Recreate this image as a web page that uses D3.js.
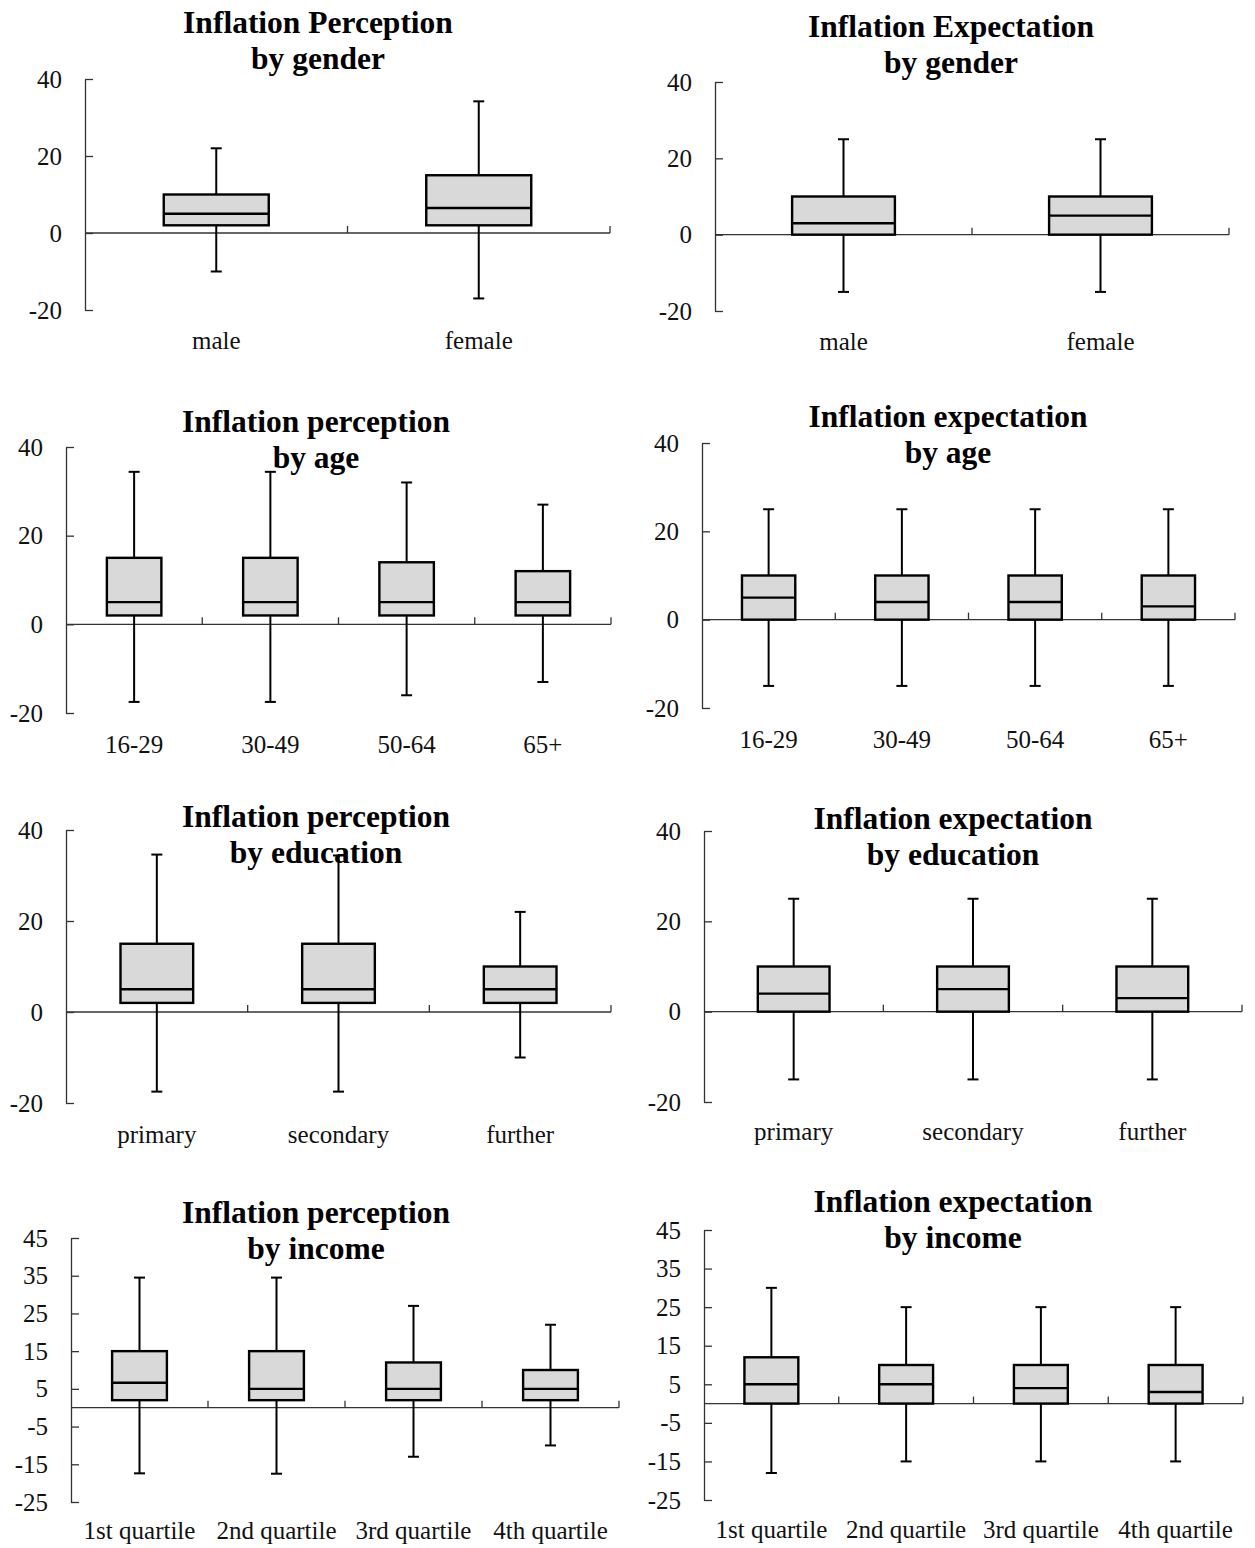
<!DOCTYPE html>
<html>
<head>
<meta charset="utf-8">
<script src="https://cdn.jsdelivr.net/npm/d3@7"></script>
<style>
  html, body { margin: 0; padding: 0; background: #fff; }
  svg { display: block; }
</style>
</head>
<body>
<svg id="chart" width="1255" height="1548"></svg>
<script>
// ---------- DATA ----------
// each box: [lower whisker, q1, median, q3, upper whisker]
const genderCats = ["male", "female"];
const ageCats = ["16-29", "30-49", "50-64", "65+"];
const eduCats = ["primary", "secondary", "further"];
const incomeCats = ["1st quartile", "2nd quartile", "3rd quartile", "4th quartile"];

const percGender = [[-10, 2, 5, 10, 22], [-17, 2, 6.5, 15, 34.2]];
const expGender  = [[-15, 0, 3, 10, 25], [-15, 0, 5, 10, 25]];
const percAge = [[-17.5, 2, 5, 15, 34.4], [-17.5, 2, 5, 15, 34.4], [-16, 2, 5, 14, 32], [-13, 2, 5, 12, 27]];
const expAge  = [[-15, 0, 5, 10, 25], [-15, 0, 4, 10, 25], [-15, 0, 4, 10, 25], [-15, 0, 3, 10, 25]];
const percEdu = [[-17.5, 2, 5, 15, 34.6], [-17.5, 2, 5, 15, 34.4], [-10, 2, 5, 10, 22]];
const expEdu  = [[-15, 0, 4, 10, 25], [-15, 0, 5, 10, 25], [-15, 0, 3, 10, 25]];
const percIncome = [[-17.4, 2, 6.6, 15, 34.5], [-17.5, 2, 5, 15, 34.5], [-13, 2, 5, 12, 27], [-10, 2, 5, 10, 22]];
const expIncome  = [[-18, 0, 5, 12, 30], [-15, 0, 5, 10, 25], [-15, 0, 4, 10, 25], [-15, 0, 3, 10, 25]];

const ticks40 = [-20, 0, 20, 40];
const ticks45 = [-25, -15, -5, 5, 15, 25, 35, 45];
const domain40 = [-20, 40];
const domain45 = [-25, 45];

const titles = [
  ["Inflation Perception", "by gender"],
  ["Inflation Expectation", "by gender"],
  ["Inflation perception", "by age"],
  ["Inflation expectation", "by age"],
  ["Inflation perception", "by education"],
  ["Inflation expectation", "by education"],
  ["Inflation perception", "by income"],
  ["Inflation expectation", "by income"]
];

// ---------- LAYOUT ----------
const panels = [
  { cats: genderCats, stats: percGender, ticks: ticks40, domain: domain40, l: 85, r: 610, t: 79, b: 310, tx: 318, ty: 33, lab: 349 },
  { cats: genderCats, stats: expGender, ticks: ticks40, domain: domain40, l: 715, r: 1229, t: 82, b: 311, tx: 951, ty: 37, lab: 350 },
  { cats: ageCats, stats: percAge, ticks: ticks40, domain: domain40, l: 66, r: 611, t: 447, b: 713, tx: 316, ty: 432, lab: 753 },
  { cats: ageCats, stats: expAge, ticks: ticks40, domain: domain40, l: 702, r: 1235, t: 443, b: 708, tx: 948, ty: 427, lab: 748 },
  { cats: eduCats, stats: percEdu, ticks: ticks40, domain: domain40, l: 66, r: 611, t: 830, b: 1103, tx: 316, ty: 827, lab: 1143 },
  { cats: eduCats, stats: expEdu, ticks: ticks40, domain: domain40, l: 704, r: 1242, t: 831, b: 1102, tx: 953, ty: 829, lab: 1140 },
  { cats: incomeCats, stats: percIncome, ticks: ticks45, domain: domain45, l: 71, r: 619, t: 1238, b: 1502, tx: 316, ty: 1223, lab: 1539 },
  { cats: incomeCats, stats: expIncome, ticks: ticks45, domain: domain45, l: 704, r: 1243, t: 1230, b: 1500, tx: 953, ty: 1212, lab: 1538 }
];

const svg = d3.select("#chart");
const FONT = "'Liberation Serif', 'Times New Roman', serif";
const AXIS = "#333";

panels.forEach((p, i) => {
  const g = svg.append("g");
  const x = d3.scaleBand().domain(p.cats).range([p.l, p.r]).paddingInner(0).paddingOuter(0);
  const y = d3.scaleLinear().domain(p.domain).range([p.b, p.t]);

  // y axis
  const yAxis = d3.axisLeft(y).tickValues(p.ticks).tickFormat(d => String(d))
    .tickSizeInner(-8).tickSizeOuter(0).tickPadding(23);
  const ya = g.append("g").attr("transform", `translate(${p.l},0)`).call(yAxis);
  ya.select(".domain").attr("stroke", AXIS).attr("stroke-width", 1.3);
  ya.selectAll(".tick line").attr("stroke", AXIS).attr("stroke-width", 1.3);
  ya.selectAll(".tick text").attr("font-family", FONT).attr("font-size", 25).attr("fill", "#111");

  // x axis line at zero with upward boundary ticks
  const y0 = y(0);
  g.append("line").attr("x1", p.l).attr("x2", p.r).attr("y1", y0).attr("y2", y0)
    .attr("stroke", AXIS).attr("stroke-width", 1.3);
  g.selectAll(".xtick").data(p.cats).join("line")
    .attr("x1", d => x(d) + x.bandwidth()).attr("x2", d => x(d) + x.bandwidth())
    .attr("y1", y0).attr("y2", y0 - 7)
    .attr("stroke", AXIS).attr("stroke-width", 1.3);

  // boxes
  const bw = x.bandwidth() * 0.4;
  const capW = 11;
  const boxes = g.selectAll(".box").data(p.cats.map((c, k) => ({ c, s: p.stats[k] }))).join("g");
  const cx = d => x(d.c) + x.bandwidth() / 2;
  boxes.append("line")
    .attr("x1", cx).attr("x2", cx)
    .attr("y1", d => y(d.s[0])).attr("y2", d => y(d.s[4]))
    .attr("stroke", "#000").attr("stroke-width", 2);
  boxes.append("line")
    .attr("x1", d => cx(d) - capW / 2).attr("x2", d => cx(d) + capW / 2)
    .attr("y1", d => y(d.s[4])).attr("y2", d => y(d.s[4]))
    .attr("stroke", "#000").attr("stroke-width", 2);
  boxes.append("line")
    .attr("x1", d => cx(d) - capW / 2).attr("x2", d => cx(d) + capW / 2)
    .attr("y1", d => y(d.s[0])).attr("y2", d => y(d.s[0]))
    .attr("stroke", "#000").attr("stroke-width", 2);
  boxes.append("rect")
    .attr("x", d => cx(d) - bw / 2)
    .attr("width", bw)
    .attr("y", d => y(d.s[3]))
    .attr("height", d => y(d.s[1]) - y(d.s[3]))
    .attr("fill", "#d9d9d9").attr("stroke", "#000").attr("stroke-width", 2.4);
  boxes.append("line")
    .attr("x1", d => cx(d) - bw / 2).attr("x2", d => cx(d) + bw / 2)
    .attr("y1", d => y(d.s[2])).attr("y2", d => y(d.s[2]))
    .attr("stroke", "#000").attr("stroke-width", 2.4);

  // category labels
  g.selectAll(".cat").data(p.cats).join("text")
    .attr("x", d => x(d) + x.bandwidth() / 2).attr("y", p.lab)
    .attr("text-anchor", "middle").attr("font-family", FONT).attr("font-size", 25).attr("fill", "#111")
    .text(d => d);

  // title
  const tt = g.append("text").attr("text-anchor", "middle").attr("font-family", FONT)
    .attr("font-weight", "bold").attr("font-size", 31.5).attr("fill", "#000");
  titles[i].forEach((line, k) => {
    tt.append("tspan").attr("x", p.tx).attr("y", p.ty + k * 36).text(line);
  });
});
</script>
</body>
</html>
